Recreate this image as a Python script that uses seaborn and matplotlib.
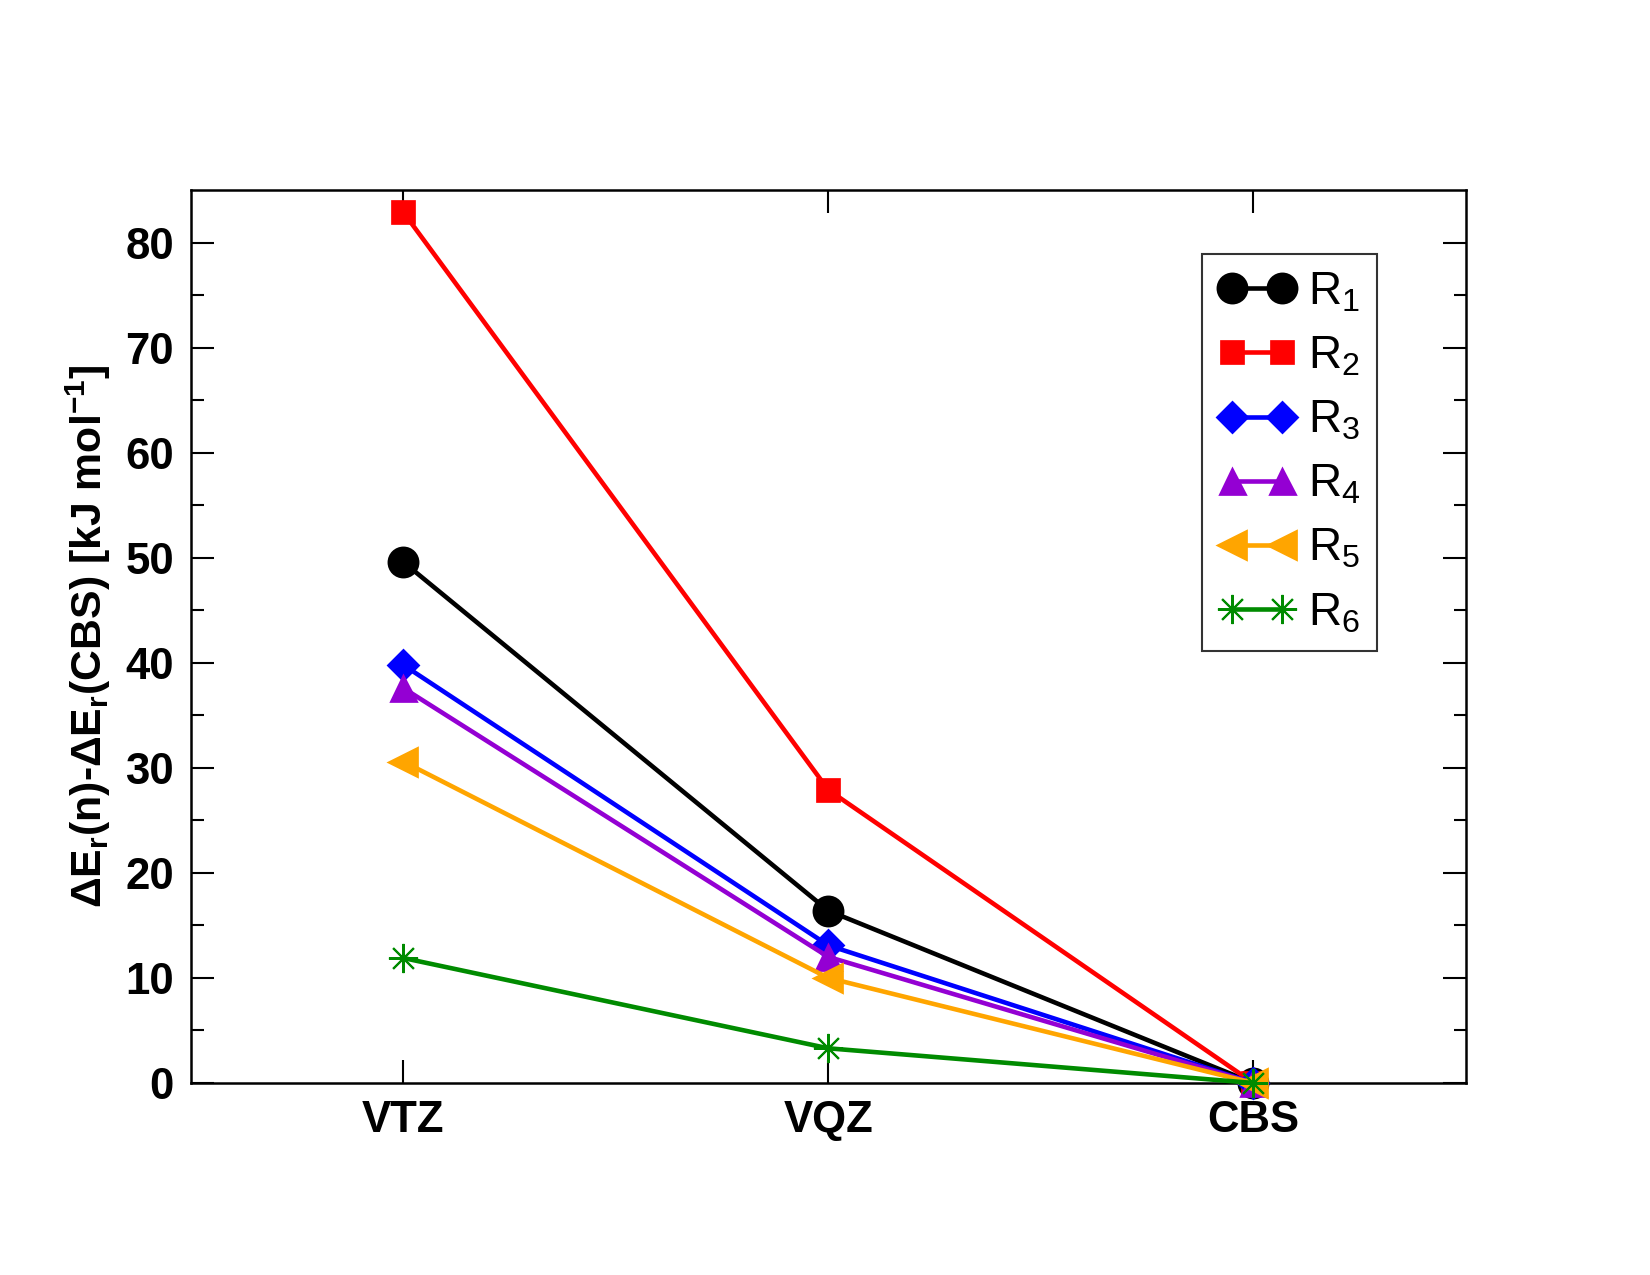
import numpy as np
import pandas as pd
import matplotlib
matplotlib.use("Agg")
import matplotlib.pyplot as plt
import seaborn as sns

# basis sets on the x axis
basis = ["VTZ", "VQZ", "CBS"]

# dE_r(n) - dE_r(CBS) in kJ/mol
r1 = [49.6, 16.4, 0.0]
r2 = [82.9, 27.9, 0.0]
r3 = [39.8, 13.1, 0.0]
r4 = [37.6, 12.0, 0.0]
r5 = [30.6, 10.0, 0.0]
r6 = [11.9, 3.3, 0.0]

labels = [r"R$_1$", r"R$_2$", r"R$_3$", r"R$_4$", r"R$_5$", r"R$_6$"]
colors = ["#000000", "#ff0000", "#0000ff", "#9400d3", "#ffa500", "#008b00"]
markers = ["o", "s", "D", "^", "<", (8, 2, 0)]
msizes = [14, 11, 10, 12, 13, 14]
mews = [1.3, 1.3, 1.3, 1.3, 1.3, 1.0]

sns.set_style("ticks")
plt.rcParams["font.family"] = ["Liberation Sans", "DejaVu Sans"]
plt.rcParams["mathtext.default"] = "regular"
for k in ["text.color", "axes.labelcolor", "xtick.color", "ytick.color", "axes.edgecolor"]:
    plt.rcParams[k] = "black"

fig = plt.figure(figsize=(11, 8.5), dpi=150)
ax = fig.add_axes([0.1155, 0.1506, 0.773, 0.7004])

x = np.arange(len(basis))
for vals, lab, c, m, ms, mew in zip([r1, r2, r3, r4, r5, r6], labels, colors, markers, msizes, mews):
    df = pd.DataFrame({"x": x, "y": vals})
    sns.lineplot(data=df, x="x", y="y", ax=ax, color=c, marker=m, markersize=ms,
                 markeredgecolor=c, markeredgewidth=mew, linewidth=2.2, label=lab,
                 clip_on=False, zorder=3)

ax.set_xlim(-0.5, 2.5)
ax.set_ylim(0, 85)
ax.set_xticks(x)
ax.set_xticklabels(basis)
ax.set_yticks(np.arange(0, 81, 10))
ax.set_yticks(np.arange(5, 85, 10), minor=True)
ax.tick_params(axis="both", which="major", direction="in", length=11, width=1.0,
               top=True, right=True, labelsize=21, pad=8)
ax.tick_params(axis="y", which="minor", direction="in", length=6, width=1.0, right=True)
for t in ax.get_xticklabels() + ax.get_yticklabels():
    t.set_fontweight("bold")
for s in ax.spines.values():
    s.set_linewidth(1.2)

ax.set_xlabel("")
ax.set_ylabel("ΔE$_r$(n)-ΔE$_r$(CBS) [kJ mol$^{-1}$]", fontsize=20.5, fontweight="bold", labelpad=6)

leg = ax.legend(loc="upper right", bbox_to_anchor=(0.930, 0.928), numpoints=2, fontsize=22,
                frameon=True, fancybox=False, edgecolor="black", handlelength=1.7,
                handletextpad=0.27, labelspacing=0.44, borderpad=0.35, borderaxespad=0)
leg.get_frame().set_linewidth(1.0)

fig.savefig("out.png", dpi=150)
